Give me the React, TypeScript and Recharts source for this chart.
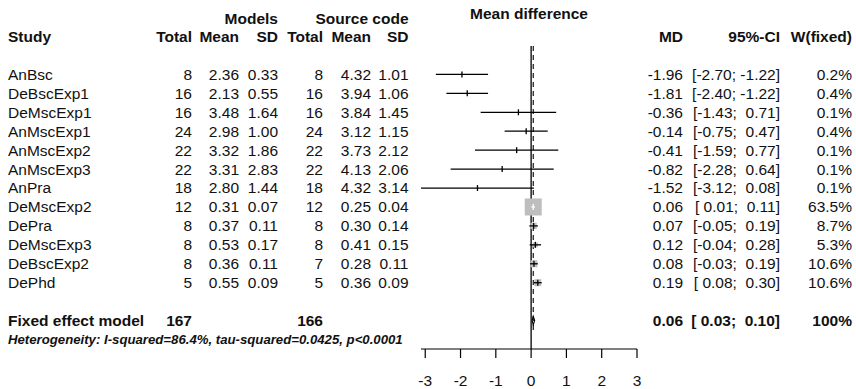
import React from 'react';
import { ComposedChart, XAxis, YAxis, Scatter, ReferenceLine, Customized } from 'recharts';

// ---------- data ----------
const studies = ['AnBsc', 'DeBscExp1', 'DeMscExp1', 'AnMscExp1', 'AnMscExp2', 'AnMscExp3', 'AnPra', 'DeMscExp2', 'DePra', 'DeMscExp3', 'DeBscExp2', 'DePhd'];
const totalModels = [8, 16, 16, 24, 22, 22, 18, 12, 8, 8, 8, 5];
const meanModels = [2.36, 2.13, 3.48, 2.98, 3.32, 3.31, 2.8, 0.31, 0.37, 0.53, 0.36, 0.55];
const sdModels = [0.33, 0.55, 1.64, 1.0, 1.86, 2.83, 1.44, 0.07, 0.11, 0.17, 0.11, 0.09];
const totalSource = [8, 16, 16, 24, 22, 22, 18, 12, 8, 8, 7, 5];
const meanSource = [4.32, 3.94, 3.84, 3.12, 3.73, 4.13, 4.32, 0.25, 0.3, 0.41, 0.28, 0.36];
const sdSource = [1.01, 1.06, 1.45, 1.15, 2.12, 2.06, 3.14, 0.04, 0.14, 0.15, 0.11, 0.09];
const md = [-1.96, -1.81, -0.36, -0.14, -0.41, -0.82, -1.52, 0.06, 0.07, 0.12, 0.08, 0.19];
const ciLow = [-2.7, -2.4, -1.43, -0.75, -1.59, -2.28, -3.12, 0.01, -0.05, -0.04, -0.03, 0.08];
const ciHigh = [-1.22, -1.22, 0.71, 0.47, 0.77, 0.64, 0.08, 0.11, 0.19, 0.28, 0.19, 0.3];
const weightFixed = [0.2, 0.4, 0.1, 0.4, 0.1, 0.1, 0.1, 63.5, 8.7, 5.3, 10.6, 10.6];

const fixedLabel = 'Fixed effect model';
const fixedTotalModels = 167;
const fixedTotalSource = 166;
const fixedMd = 0.06;
const fixedLow = 0.03;
const fixedHigh = 0.1;
const fixedWeight = '100%';
const hetText = 'Heterogeneity: I-squared=86.4%, tau-squared=0.0425, p<0.0001';

const xTicks = [-3, -2, -1, 0, 1, 2, 3];
const FIXED_ROW = 13;
const HET_ROW = 14;
const rowTicks = [...studies.map((_, i) => i), FIXED_ROW, HET_ROW];

// ---------- style ----------
const FONT = '"Liberation Sans", Arial, Helvetica, sans-serif';
const FS = 15.5;
const INK = '#111';
const SQ_MAX = 17;
const PX_PER_UNIT = 36;
const COL = { study: 8, n1: 192, m1: 239, sd1: 278, n2: 323, m2: 371, sd2: 408.5, md: 683, ci: 780, w: 852 };

const maxW = Math.max(...weightFixed);
const side = (i: number) => SQ_MAX * Math.sqrt(weightFixed[i] / maxW);
const innerColor = (i: number) => ((ciHigh[i] - ciLow[i]) * PX_PER_UNIT < side(i) ? '#fff' : '#000');

const pad = (v: number) => (v >= 0 ? ' ' : '') + v.toFixed(2);
const ciText = (lo: number, hi: number) => `[${pad(lo)}; ${pad(hi)}]`;

const squareData = studies.map((_, i) => ({ x: md[i], y: i, i }));

const T = ({ x, y, anchor = 'end', bold = false, italic = false, size = FS, children }: any) => (
  <text
    x={x}
    y={y}
    dy="0.35em"
    textAnchor={anchor}
    fontFamily={FONT}
    fontSize={size}
    fontWeight={bold ? 'bold' : 'normal'}
    fontStyle={italic ? 'italic' : 'normal'}
    fill={INK}
    style={{ whiteSpace: 'pre' }}
  >
    {children}
  </text>
);

const RowTick = (props: any) => {
  const { y, index } = props;
  const v = props.payload && typeof props.payload.value === 'number' ? props.payload.value : rowTicks[index];
  if (v === HET_ROW) {
    return (
      <g>
        <T x={COL.study} y={y} anchor="start" bold italic size={13.2}>{hetText}</T>
      </g>
    );
  }
  if (v === FIXED_ROW) {
    return (
      <g>
        <T x={COL.study} y={y} anchor="start" bold>{fixedLabel}</T>
        <T x={COL.n1} y={y} bold>{String(fixedTotalModels)}</T>
        <T x={COL.n2} y={y} bold>{String(fixedTotalSource)}</T>
        <T x={COL.md} y={y} bold>{fixedMd.toFixed(2)}</T>
        <T x={COL.ci} y={y} bold>{ciText(fixedLow, fixedHigh)}</T>
        <T x={COL.w} y={y} bold>{fixedWeight}</T>
      </g>
    );
  }
  const i = v as number;
  if (!(i >= 0 && i < studies.length)) return <g />;
  return (
    <g>
      <T x={COL.study} y={y} anchor="start">{studies[i]}</T>
      <T x={COL.n1} y={y}>{String(totalModels[i])}</T>
      <T x={COL.m1} y={y}>{meanModels[i].toFixed(2)}</T>
      <T x={COL.sd1} y={y}>{sdModels[i].toFixed(2)}</T>
      <T x={COL.n2} y={y}>{String(totalSource[i])}</T>
      <T x={COL.m2} y={y}>{meanSource[i].toFixed(2)}</T>
      <T x={COL.sd2} y={y}>{sdSource[i].toFixed(2)}</T>
      <T x={COL.md} y={y}>{md[i].toFixed(2)}</T>
      <T x={COL.ci} y={y}>{ciText(ciLow[i], ciHigh[i])}</T>
      <T x={COL.w} y={y}>{`${weightFixed[i].toFixed(1)}%`}</T>
    </g>
  );
};

const XTick = (props: any) => {
  const { x, y, payload } = props;
  return (
    <text x={x} y={y} dy="0.71em" textAnchor="middle" fontFamily={FONT} fontSize={FS} fill={INK}>
      {String(payload.value)}
    </text>
  );
};

const Headers = () => (
  <g>
    <T x={529} y={14} anchor="middle" bold>Mean difference</T>
    <T x={COL.sd1} y={18.5} bold>Models</T>
    <T x={COL.sd2} y={18.5} bold>Source code</T>
    <T x={COL.study} y={37} anchor="start" bold>Study</T>
    <T x={COL.n1} y={37} bold>Total</T>
    <T x={COL.m1} y={37} bold>Mean</T>
    <T x={COL.sd1} y={37} bold>SD</T>
    <T x={COL.n2} y={37} bold>Total</T>
    <T x={COL.m2} y={37} bold>Mean</T>
    <T x={COL.sd2} y={37} bold>SD</T>
    <T x={COL.md} y={37} bold>MD</T>
    <T x={COL.ci} y={37} bold>95%-CI</T>
    <T x={COL.w} y={37} bold>W(fixed)</T>
  </g>
);

const SquareShape = (props: any) => {
  const { cx, cy, payload } = props;
  const s = side(payload.i);
  return <rect x={cx - s / 2} y={cy - s / 2} width={s} height={s} fill="#bebebe" />;
};

const TickShape = (props: any) => {
  const { cx, cy, payload } = props;
  return <line x1={cx} x2={cx} y1={cy - 3} y2={cy + 3} stroke={innerColor(payload.i)} strokeWidth={1.3} />;
};

const NoShape = () => <g />;

export default function App() {
  return (
    <div style={{ position: 'absolute', left: 0, top: 0, width: 856, height: 389, background: '#fff' }}>
      <ComposedChart width={856} height={389} margin={{ top: 46, right: 219, bottom: 0, left: 420 }}>
        <XAxis
          type="number"
          dataKey="x"
          domain={() => [-3, 3]}
          ticks={xTicks}
          interval={0}
          height={40}
          tickSize={9}
          tickMargin={16.5}
          axisLine={{ stroke: '#000', strokeWidth: 1.2 }}
          tickLine={{ stroke: '#000', strokeWidth: 1.2 }}
          tick={(p: any) => <XTick {...p} />}
        />
        <YAxis
          type="number"
          dataKey="y"
          domain={[-1.5, 14.5]}
          reversed
          ticks={rowTicks}
          interval={0}
          width={1}
          axisLine={false}
          tickLine={false}
          tick={(p: any) => <RowTick {...p} />}
        />
        <ReferenceLine x={0} stroke="#000" strokeWidth={1.3} />
        <ReferenceLine
          segment={[{ x: fixedMd, y: -1.5 }, { x: fixedMd, y: 13.6 }]}
          stroke="#000"
          strokeWidth={1.1}
          strokeDasharray="5 4"
        />
        <Scatter data={squareData} shape={<SquareShape />} isAnimationActive={false} />
        {studies.map((s, i) => (
          <Scatter
            key={s}
            data={[{ x: ciLow[i], y: i }, { x: ciHigh[i], y: i }]}
            line={{ stroke: innerColor(i), strokeWidth: 1.3 }}
            shape={<NoShape />}
            isAnimationActive={false}
          />
        ))}
        <Scatter data={squareData} shape={<TickShape />} isAnimationActive={false} />
        <Scatter
          data={[
            { x: fixedLow, y: FIXED_ROW },
            { x: fixedMd, y: FIXED_ROW - 0.23 },
            { x: fixedHigh, y: FIXED_ROW },
            { x: fixedMd, y: FIXED_ROW + 0.23 },
            { x: fixedLow, y: FIXED_ROW },
          ]}
          line={{ stroke: '#000', strokeWidth: 1.1 }}
          shape={<NoShape />}
          isAnimationActive={false}
        />
        <Customized component={<Headers />} />
      </ComposedChart>
    </div>
  );
}
